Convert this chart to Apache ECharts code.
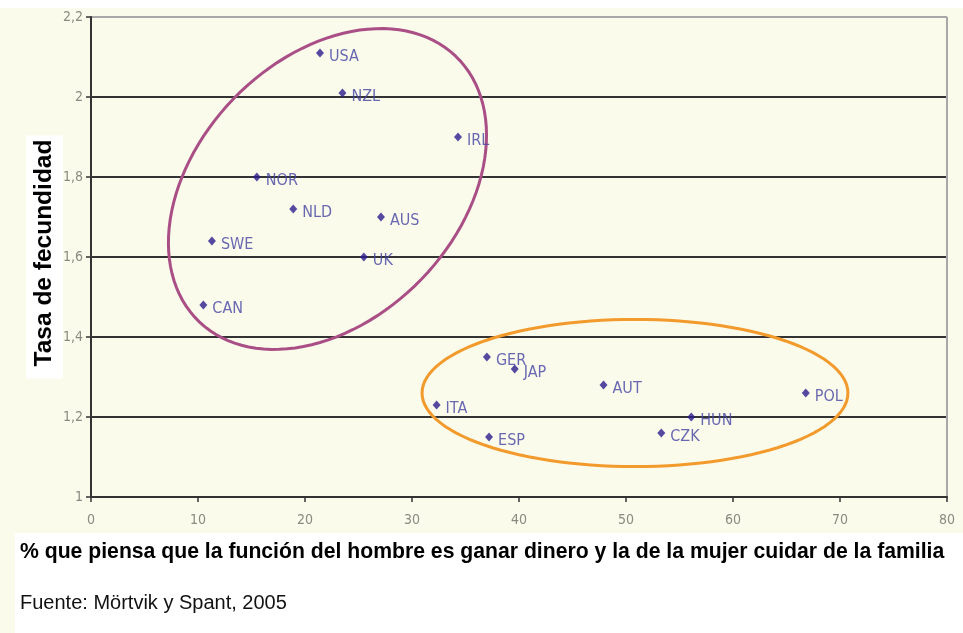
<!DOCTYPE html>
<html>
<head>
<meta charset="utf-8">
<script src="https://cdn.jsdelivr.net/npm/echarts@6/dist/echarts.min.js"></script>
<style>
  html, body { margin: 0; padding: 0; background: #fbfbec; }
  #chart { width: 963px; height: 633px; }
</style>
</head>
<body>
<div id="chart"></div>
<script>
// countries and values
const countries = ['USA', 'NZL', 'IRL', 'NOR', 'NLD', 'AUS', 'SWE', 'UK', 'CAN',
                   'GER', 'JAP', 'AUT', 'ITA', 'ESP', 'CZK', 'HUN', 'POL'];
const pctBreadwinner = [21.4, 23.5, 34.3, 15.5, 18.9, 27.1, 11.3, 25.5, 10.5,
                        37.0, 39.6, 47.9, 32.3, 37.2, 53.3, 56.1, 66.8];
const fertility = [2.11, 2.01, 1.90, 1.80, 1.72, 1.70, 1.64, 1.60, 1.48,
                   1.35, 1.32, 1.28, 1.23, 1.15, 1.16, 1.20, 1.26];

// ellipses: centre, end of one semi-diameter, end of the conjugate one (data units)
const ellipseCentres = [[22.1, 1.77], [50.84, 1.26]];
const ellipseAxisA = [[34.08, 2.102], [70.74, 1.26]];
const ellipseAxisB = [[30.9, 1.545], [50.84, 1.444]];
const ellipseColours = ['#a94f86', '#f29a2c'];

const xTicks = [0, 10, 20, 30, 40, 50, 60, 70, 80];

const narrow = "'Liberation Sans Narrow', 'DejaVu Sans Condensed', sans-serif";

const chart = echarts.init(document.getElementById('chart'));

const scatterData = countries.map((c, i) => ({ name: c, value: [pctBreadwinner[i], fertility[i]] }));
const ellipseData = ellipseCentres.map((c, i) => ({
  value: [c[0], c[1], ellipseAxisA[i][0], ellipseAxisA[i][1], ellipseAxisB[i][0], ellipseAxisB[i][1]],
  itemStyle: { color: ellipseColours[i] }
}));

chart.setOption({
  backgroundColor: '#fbfbec',
  animation: false,
  graphic: [
    { type: 'rect', left: 0, top: 0, z: -10, shape: { width: 963, height: 8 }, style: { fill: '#fff' } },
    { type: 'rect', left: 15, top: 533, z: -10, shape: { width: 948, height: 100 }, style: { fill: '#fff' } }
  ],
  title: [
    {
      text: '% que piensa que la función del hombre es ganar dinero y la de la mujer cuidar de la familia',
      left: 15, top: 537,
      textStyle: { fontFamily: 'Liberation Sans, Arial, sans-serif', fontSize: 21.2, fontWeight: 'bold', color: '#000' }
    },
    {
      text: 'Fuente: Mörtvik y Spant, 2005',
      left: 15, top: 588,
      textStyle: { fontFamily: 'Liberation Sans, Arial, sans-serif', fontSize: 20, fontWeight: 'normal', color: '#111' }
    }
  ],
  grid: { left: 91, right: 16, top: 17, bottom: 136 },
  xAxis: {
    type: 'value',
    min: 0, max: 80, interval: 10,
    axisLine: { show: true, onZero: false, lineStyle: { color: '#333', width: 2 } },
    axisTick: { show: true, length: 5, lineStyle: { color: '#333', width: 1.5 } },
    axisLabel: {
      margin: 16, color: '#8a8a80', fontFamily: narrow, fontSize: 14,
      formatter: v => xTicks.includes(v) ? String(v) : ''
    },
    splitLine: {
      show: true,
      lineStyle: { color: ['transparent', 'transparent', 'transparent', 'transparent', 'transparent',
                           'transparent', 'transparent', 'transparent', '#a8a8a8'], width: 2 }
    }
  },
  yAxis: {
    type: 'value',
    min: 1, max: 2.2, interval: 0.2,
    name: 'Tasa de fecundidad',
    nameLocation: 'middle',
    nameRotate: 90,
    nameGap: 28,
    nameMoveOverlap: false,
    nameTextStyle: {
      fontFamily: 'Liberation Sans, Arial, sans-serif', fontSize: 24.5, fontWeight: 'bold', color: '#000',
      backgroundColor: '#fff', padding: [6, 4, 6, 12]
    },
    axisLine: { show: true, lineStyle: { color: '#333', width: 2 } },
    axisTick: { show: true, length: 5, lineStyle: { color: '#333', width: 1.5 } },
    axisLabel: {
      margin: 8, color: '#8a8a80', fontFamily: narrow, fontSize: 14,
      formatter: v => String(+v.toFixed(1)).replace('.', ',')
    },
    splitLine: {
      show: true,
      lineStyle: { color: ['#333', '#333', '#333', '#333', '#333', '#333', '#a8a8a8'], width: 2 }
    }
  },
  series: [
    {
      type: 'custom',
      data: ellipseData,
      clip: false,
      z: 1,
      silent: true,
      renderItem(params, api) {
        const c = api.coord([api.value(0), api.value(1)]);
        const a = api.coord([api.value(2), api.value(3)]);
        const b = api.coord([api.value(4), api.value(5)]);
        const pts = [];
        for (let i = 0; i < 120; i++) {
          const t = i / 120 * Math.PI * 2;
          pts.push([
            c[0] + (a[0] - c[0]) * Math.cos(t) + (b[0] - c[0]) * Math.sin(t),
            c[1] + (a[1] - c[1]) * Math.cos(t) + (b[1] - c[1]) * Math.sin(t)
          ]);
        }
        return {
          type: 'polygon',
          shape: { points: pts },
          style: { fill: 'none', stroke: api.visual('color'), lineWidth: 3 }
        };
      }
    },
    {
      type: 'scatter',
      data: scatterData,
      symbol: 'diamond',
      symbolSize: [8, 9],
      z: 3,
      itemStyle: { color: '#2a1c8c' },
      label: {
        show: true,
        position: 'right',
        distance: 5,
        offset: [0, 4],
        formatter: '{b}',
        color: '#4444a2',
        fontFamily: narrow,
        fontSize: 16
      }
    }
  ]
});
</script>
</body>
</html>
